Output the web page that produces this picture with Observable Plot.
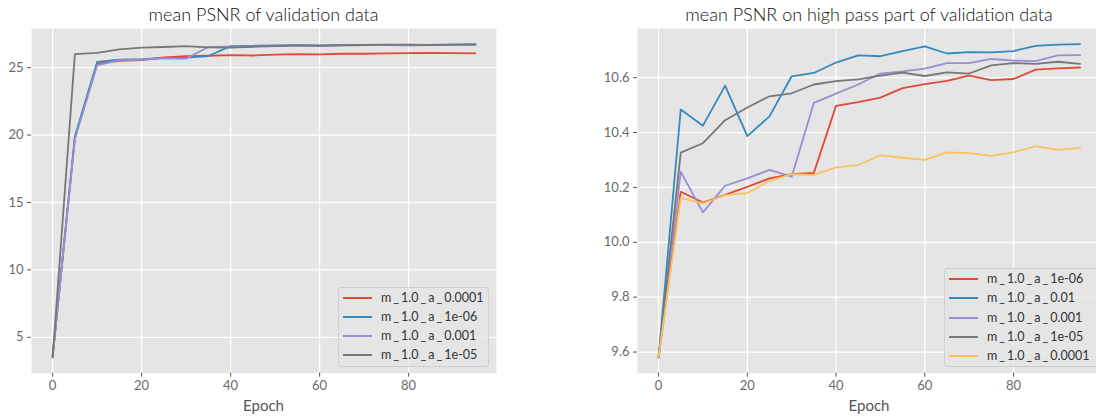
<!DOCTYPE html>
<html><head><meta charset="utf-8">
<script src="https://cdn.jsdelivr.net/npm/d3@7"></script>
<script src="https://cdn.jsdelivr.net/npm/@observablehq/plot@0.6"></script>
<style>
body{margin:0;background:#fff;font-family:Lato,"DejaVu Sans",sans-serif;}
#fig{position:relative;width:1096px;height:417px;overflow:hidden;background:#fff;}
#fig svg{position:absolute;top:0;}
.title{position:absolute;top:1px;font-size:18px;font-weight:300;color:#111;white-space:nowrap;transform:translateX(-50%);line-height:26px;}
.xlabel{position:absolute;top:396px;font-size:15px;color:#555;transform:translateX(-50%);line-height:18px;}
.legend{position:absolute;background:rgba(229,229,229,0.8);border:1px solid #cfcfcf;border-radius:3px;box-sizing:border-box;}
.lrow{position:absolute;height:16px;line-height:16px;font-size:12.5px;color:#333;white-space:nowrap;}
.lrow .sw{position:absolute;left:0;top:7px;width:29px;height:2px;}
.lrow .tx{position:absolute;left:38px;top:0;}
.lrow .us{margin:0 2px;}
</style>
</head><body>
<div id="fig"></div>
<script>
// ---------- data ----------
const epochs = [0,5,10,15,20,25,30,35,40,45,50,55,60,65,70,75,80,85,90,95];
const xTickValues = [0,20,40,60,80];

// left chart: mean PSNR of validation data
const leftNames = ["m_1.0_a_0.0001","m_1.0_a_1e-06","m_1.0_a_0.001","m_1.0_a_1e-05"];
const leftColors = ["#E24A33","#348ABD","#988ED5","#777777"];
const left_a_0_0001 = [3.6,19.8,25.3,25.5,25.55,25.75,25.86,25.88,25.92,25.9,25.96,26.0,25.98,26.03,26.03,26.06,26.07,26.1,26.07,26.05];
const left_a_1e_06  = [3.55,19.9,25.42,25.6,25.62,25.72,25.74,25.86,26.6,26.62,26.64,26.66,26.65,26.67,26.68,26.68,26.66,26.68,26.7,26.74];
const left_a_0_001  = [3.6,19.7,25.17,25.55,25.6,25.68,25.67,26.53,26.55,26.58,26.6,26.64,26.63,26.66,26.67,26.68,26.67,26.68,26.69,26.7];
const left_a_1e_05  = [3.5,26.0,26.1,26.35,26.48,26.53,26.6,26.5,26.48,26.55,26.6,26.65,26.62,26.66,26.68,26.7,26.7,26.68,26.7,26.7];
const leftYTicks = [5,10,15,20,25];

// right chart: mean PSNR on high pass part of validation data
const rightNames = ["m_1.0_a_1e-06","m_1.0_a_0.01","m_1.0_a_0.001","m_1.0_a_1e-05","m_1.0_a_0.0001"];
const rightColors = ["#E24A33","#348ABD","#988ED5","#777777","#FBC15E"];
const right_a_1e_06  = [9.58,10.184,10.145,10.173,10.202,10.233,10.248,10.253,10.497,10.511,10.527,10.562,10.576,10.588,10.607,10.591,10.595,10.629,10.634,10.637];
const right_a_0_01   = [9.58,10.484,10.425,10.571,10.387,10.459,10.605,10.617,10.655,10.681,10.678,10.697,10.714,10.688,10.693,10.692,10.697,10.716,10.72,10.722];
const right_a_0_001  = [9.58,10.257,10.109,10.206,10.233,10.264,10.239,10.508,10.542,10.575,10.615,10.623,10.633,10.653,10.653,10.668,10.662,10.66,10.681,10.682];
const right_a_1e_05  = [9.58,10.327,10.361,10.445,10.491,10.532,10.543,10.575,10.587,10.594,10.607,10.618,10.606,10.619,10.615,10.645,10.653,10.65,10.658,10.65];
const right_a_0_0001 = [9.58,10.162,10.142,10.172,10.179,10.224,10.248,10.246,10.273,10.281,10.317,10.308,10.3,10.328,10.325,10.315,10.328,10.35,10.337,10.344];
const rightYTicks = [9.6,9.8,10.0,10.2,10.4,10.6];

// ---------- build ----------
function toRows(names, arrays){
  const rows = [];
  names.forEach((n,i)=>arrays[i].forEach((v,j)=>rows.push({name:n, epoch:epochs[j], value:v})));
  return rows;
}
function padded(ext){ const d=(ext[1]-ext[0])*0.05; return [ext[0]-d, ext[1]+d]; }

const fig = document.getElementById("fig");

function makePanel(cfg){
  const rows = toRows(cfg.names, cfg.arrays);
  const xDom = padded(d3.extent(epochs));
  const yDom = padded(d3.extent(rows, d=>d.value));
  const svg = Plot.plot({
    width: cfg.width, height: 417,
    marginTop: 28, marginBottom: 44.3, marginLeft: cfg.marginLeft, marginRight: cfg.marginRight,
    x: {domain: xDom},
    y: {domain: yDom},
    color: {domain: cfg.names, range: cfg.colors},
    style: {background:"transparent", maxWidth:"none", fontFamily:"Lato, sans-serif", fontSize:"13px", color:"#555", overflow:"visible"},
    marks: [
      Plot.frame({fill:"#E5E5E5", stroke:"none"}),
      Plot.gridX({ticks: xTickValues, stroke:"white", strokeOpacity:1, strokeWidth:1.2}),
      Plot.gridY({ticks: cfg.yTicks, stroke:"white", strokeOpacity:1, strokeWidth:1.2}),
      Plot.axisX({ticks: xTickValues, tickSize:4, tickPadding:4, label:null, color:"#555", fill:"#6a6a6a"}),
      Plot.axisY({ticks: cfg.yTicks, tickFormat: cfg.yFormat, tickSize:4, tickPadding:4, label:null, color:"#555", fill:"#6a6a6a"}),
      Plot.line(rows, {x:"epoch", y:"value", z:"name", stroke:"name", strokeWidth:1.8})
    ]
  });
  svg.style.left = cfg.left + "px";
  fig.appendChild(svg);

  const t = document.createElement("div");
  t.className = "title"; t.textContent = cfg.title; t.style.left = cfg.center + "px";
  fig.appendChild(t);
  const xl = document.createElement("div");
  xl.className = "xlabel"; xl.textContent = "Epoch"; xl.style.left = cfg.center + "px";
  fig.appendChild(xl);

  const lg = document.createElement("div");
  lg.className = "legend";
  Object.assign(lg.style, {left: cfg.legend.x+"px", top: cfg.legend.y+"px", width: cfg.legend.w+"px", height: cfg.legend.h+"px"});
  cfg.names.forEach((n,i)=>{
    const r = document.createElement("div");
    r.className = "lrow";
    r.style.left = "4px";
    r.style.top = (cfg.legend.first + i*cfg.legend.step - 8) + "px";
    const sw = document.createElement("span"); sw.className="sw"; sw.style.background = cfg.colors[i];
    const tx = document.createElement("span"); tx.className="tx";
    n.split("_").forEach((part,k)=>{
      if (k>0){ const u=document.createElement("span"); u.className="us"; u.textContent="_"; tx.appendChild(u); }
      tx.appendChild(document.createTextNode(part));
    });
    r.appendChild(sw); r.appendChild(tx); lg.appendChild(r);
  });
  fig.appendChild(lg);
}

makePanel({
  names: leftNames, colors: leftColors,
  arrays: [left_a_0_0001, left_a_1e_06, left_a_0_001, left_a_1e_05],
  yTicks: leftYTicks, yFormat: d3.format("d"),
  left: 0, width: 500, marginLeft: 31, marginRight: 4, center: 263.5,
  title: "mean PSNR of validation data",
  legend: {x:338, y:287, w:151, h:80, first:10, step:19}
});
makePanel({
  names: rightNames, colors: rightColors,
  arrays: [right_a_1e_06, right_a_0_01, right_a_0_001, right_a_1e_05, right_a_0_0001],
  yTicks: rightYTicks, yFormat: d3.format(".1f"),
  left: 600, width: 506, marginLeft: 37, marginRight: 5.4, center: 869,
  title: "mean PSNR on high pass part of validation data",
  legend: {x:944, y:268, w:160, h:99, first:10, step:19.25}
});
</script>
</body></html>
